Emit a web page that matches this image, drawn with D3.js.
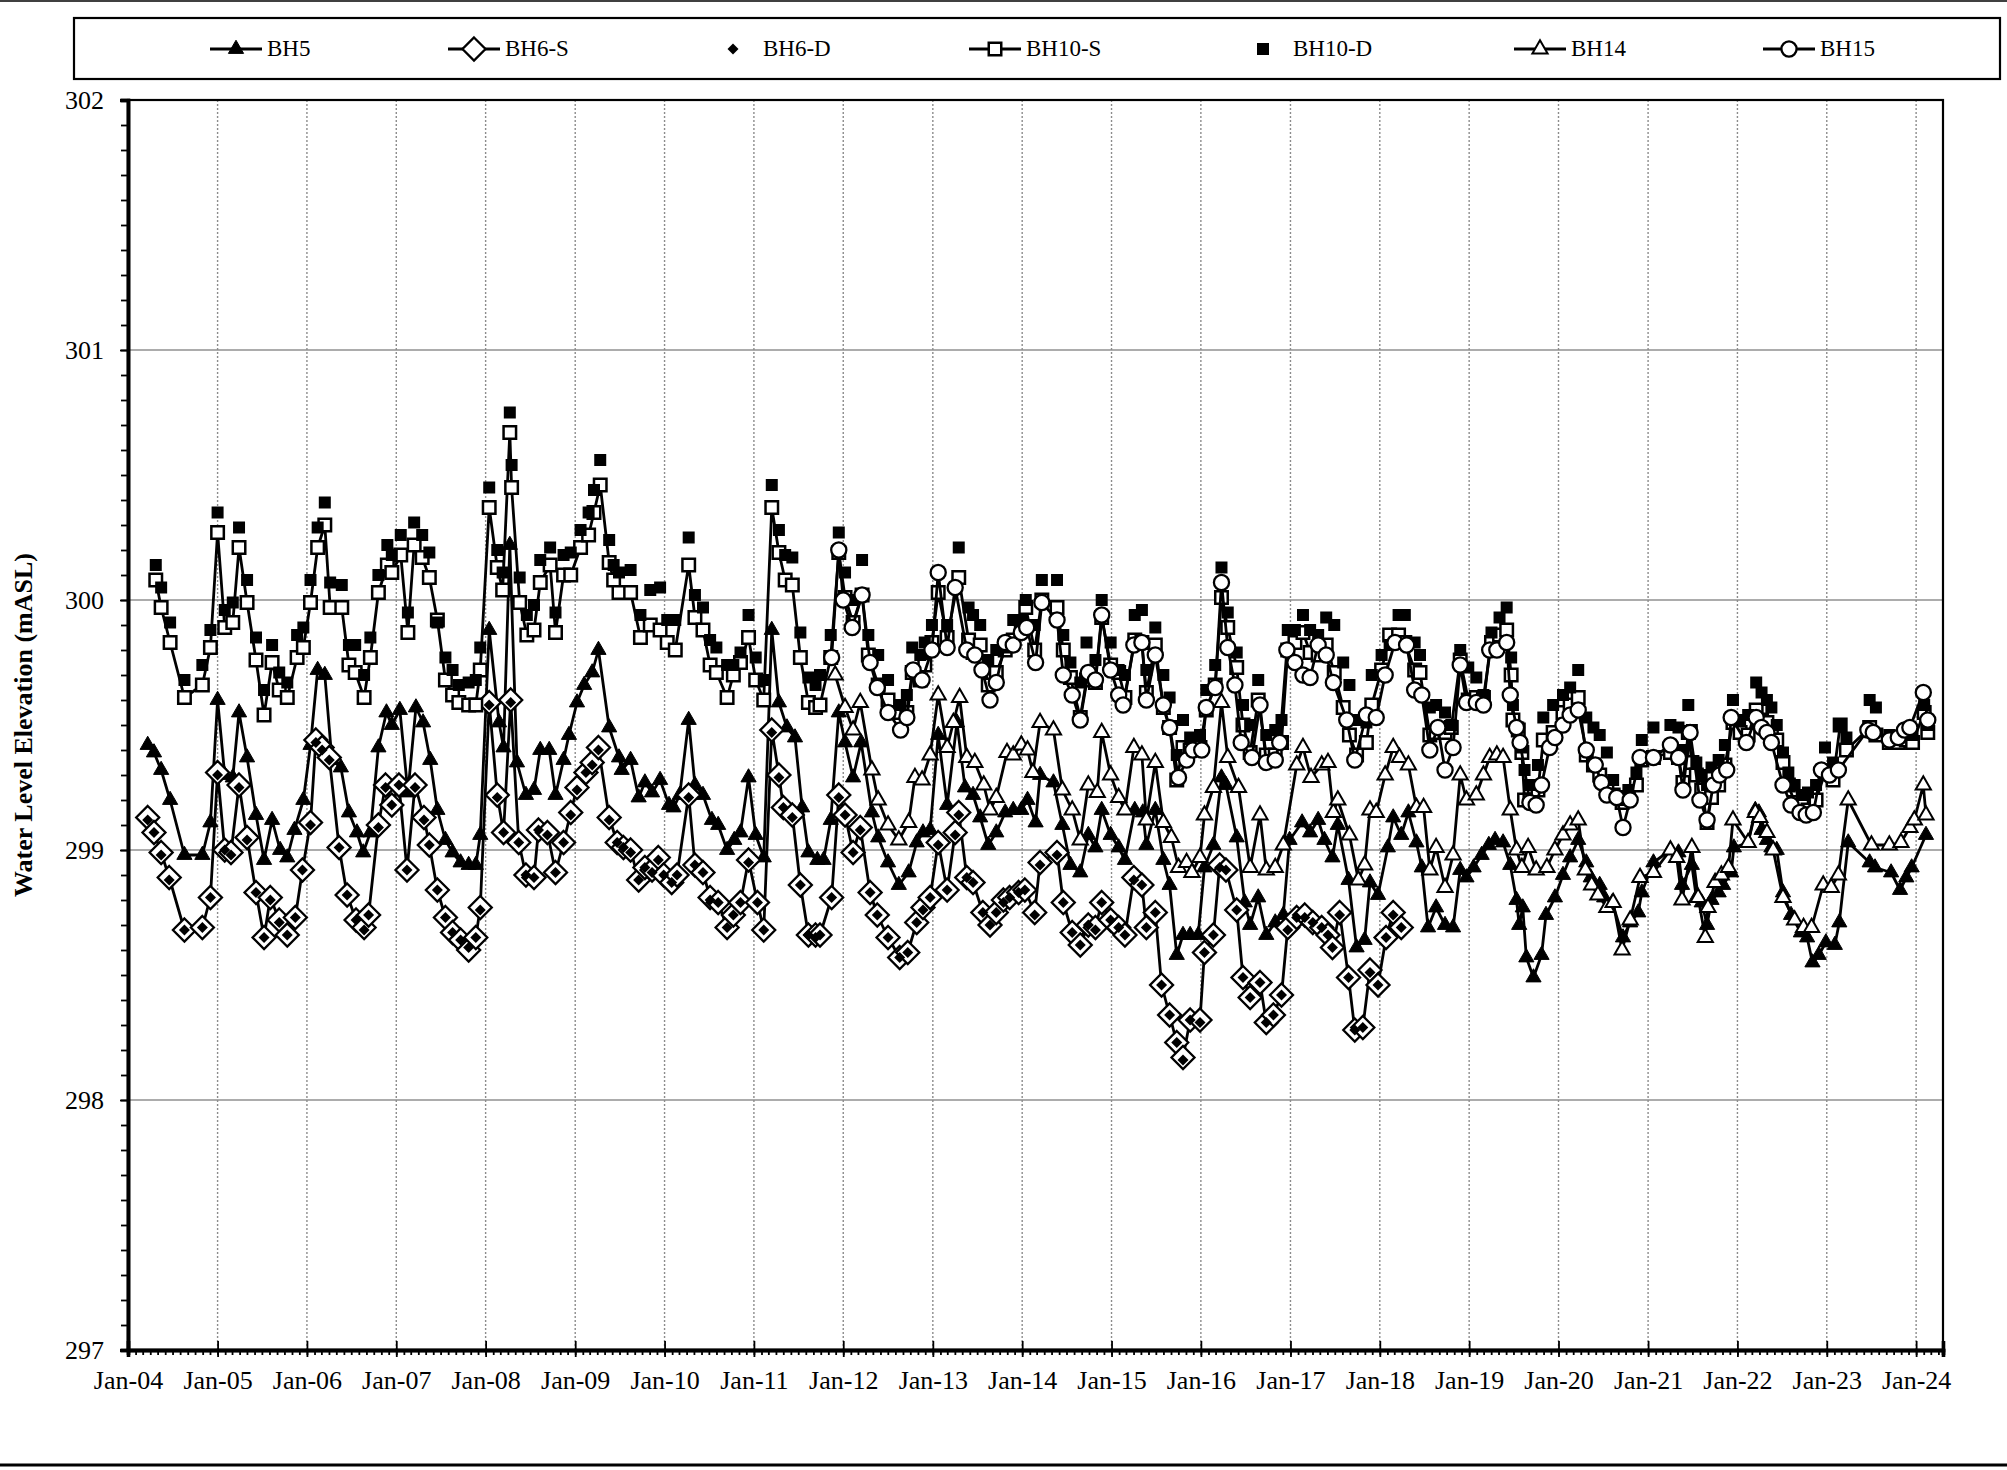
<!DOCTYPE html>
<html>
<head>
<meta charset="utf-8">
<script src="https://cdn.jsdelivr.net/npm/d3@7"></script>
<style>
  body { margin: 0; background: #fff; }
  svg, svg text { font-family: "Liberation Serif", "Times New Roman", serif; }
  text { fill: #000; }
</style>
</head>
<body>
<svg id="chart" width="2007" height="1470"></svg>
<script>
"use strict";

// data : [decimal year, elevation]
const bh5 = [
  [2004.22,299.42],[2004.29,299.39],[2004.37,299.32],[2004.47,299.20],[2004.63,298.98],[2004.83,298.98],[2004.92,299.11],
  [2005.00,299.60],[2005.08,299.30],[2005.17,299.29],[2005.24,299.55],[2005.33,299.37],[2005.43,299.14],[2005.52,298.96],[2005.61,299.12],[2005.70,299.00],[2005.78,298.97],[2005.86,299.08],[2005.96,299.20],
  [2006.04,299.42],[2006.12,299.72],[2006.20,299.70],[2006.28,299.36],[2006.38,299.33],[2006.47,299.15],[2006.56,299.07],[2006.63,298.99],[2006.71,299.07],[2006.80,299.41],[2006.89,299.55],[2006.95,299.50],
  [2007.04,299.56],[2007.13,299.23],[2007.22,299.57],[2007.30,299.51],[2007.38,299.36],[2007.46,299.16],[2007.55,299.04],[2007.63,298.99],[2007.72,298.95],[2007.81,298.94],[2007.89,298.94],[2007.94,299.06],
  [2008.04,299.88],[2008.15,299.51],[2008.20,299.41],[2008.27,300.22],[2008.35,299.35],[2008.45,299.22],[2008.54,299.24],[2008.61,299.40],[2008.71,299.40],[2008.78,299.22],[2008.87,299.36],[2008.93,299.46],
  [2009.02,299.59],[2009.10,299.66],[2009.19,299.71],[2009.26,299.80],[2009.38,299.49],[2009.49,299.37],[2009.52,299.32],[2009.62,299.36],[2009.71,299.21],[2009.78,299.27],[2009.86,299.23],[2009.95,299.28],
  [2010.05,299.18],[2010.10,299.17],[2010.17,299.22],[2010.27,299.52],[2010.34,299.26],[2010.43,299.22],[2010.53,299.12],[2010.60,299.10],[2010.70,299.00],[2010.78,299.04],[2010.85,299.07],[2010.94,299.29],
  [2011.02,299.06],[2011.11,298.97],[2011.20,299.88],[2011.28,299.59],[2011.37,299.49],[2011.46,299.45],[2011.54,299.17],[2011.61,298.99],[2011.71,298.96],[2011.78,298.96],[2011.86,299.12],[2011.95,299.55],
  [2012.02,299.43],[2012.11,299.29],[2012.20,299.43],[2012.32,299.15],[2012.39,299.05],[2012.50,298.95],[2012.62,298.86],[2012.73,298.91],[2012.82,299.03],[2012.89,299.07],[2012.97,299.08],
  [2013.06,299.46],[2013.16,299.18],[2013.27,299.51],[2013.36,299.25],[2013.45,299.22],[2013.53,299.13],[2013.62,299.02],[2013.71,299.07],[2013.81,299.15],[2013.90,299.16],[2013.99,299.16],
  [2014.06,299.20],[2014.15,299.11],[2014.20,299.30],[2014.35,299.27],[2014.45,299.10],[2014.54,298.94],[2014.65,298.91],[2014.74,299.06],[2014.82,299.01],[2014.89,299.16],[2014.99,299.06],
  [2015.08,299.01],[2015.15,298.96],[2015.26,299.16],[2015.35,299.15],[2015.39,299.02],[2015.49,299.16],[2015.58,298.96],[2015.65,298.86],[2015.73,298.58],[2015.80,298.66],[2015.88,298.66],[2015.97,298.66],
  [2016.04,298.93],[2016.14,299.02],[2016.23,299.29],[2016.28,299.26],[2016.40,299.05],[2016.49,298.79],[2016.55,298.70],[2016.64,298.81],[2016.73,298.66],[2016.83,298.71],[2016.92,298.74],[2016.99,299.04],
  [2017.13,299.11],[2017.22,299.07],[2017.31,299.12],[2017.38,299.04],[2017.47,298.97],[2017.53,299.10],[2017.65,298.88],[2017.74,298.61],[2017.83,298.64],[2017.89,298.87],[2017.98,298.82],
  [2018.09,299.01],[2018.15,299.13],[2018.24,299.06],[2018.32,299.15],[2018.41,299.03],[2018.47,298.93],[2018.54,298.69],[2018.63,298.77],[2018.73,298.70],[2018.82,298.69],[2018.90,298.92],[2018.97,298.89],
  [2019.05,298.93],[2019.14,298.98],[2019.22,299.02],[2019.29,299.04],[2019.38,299.03],[2019.46,298.94],[2019.53,298.80],[2019.56,298.70],[2019.60,298.77],[2019.64,298.57],[2019.72,298.49],[2019.81,298.58],[2019.86,298.74],[2019.96,298.81],
  [2020.05,298.90],[2020.13,298.97],[2020.22,299.04],[2020.31,298.95],[2020.36,298.89],[2020.46,298.86],[2020.51,298.81],[2020.60,298.79],[2020.72,298.65],[2020.80,298.71],[2020.89,298.75],[2020.93,298.83],
  [2021.06,298.95],[2021.25,299.00],[2021.34,298.99],[2021.38,298.86],[2021.49,298.94],[2021.54,298.81],[2021.60,298.79],[2021.66,298.70],[2021.71,298.80],[2021.79,298.83],[2021.84,298.86],[2021.93,298.91],[2021.96,299.01],
  [2022.12,299.03],[2022.20,299.16],[2022.24,299.15],[2022.27,299.08],[2022.33,299.04],[2022.38,299.01],[2022.44,299.00],[2022.51,298.83],[2022.60,298.74],[2022.71,298.67],[2022.78,298.65],[2022.84,298.55],[2022.91,298.58],[2022.99,298.63],
  [2023.09,298.62],[2023.14,298.71],[2023.24,299.03],[2023.48,298.95],[2023.54,298.93],[2023.72,298.91],[2023.82,298.84],[2023.89,298.89],[2023.95,298.93],[2024.11,299.06]
];

// data : [decimal year, BH6-S, BH6-D]
const bh6 = [
  [2004.22,299.13,299.12],[2004.29,299.07,299.07],[2004.37,298.99,298.98],[2004.46,298.89,298.88],[2004.63,298.68,298.68],[2004.83,298.69,298.69],[2004.92,298.81,298.81],
  [2005.00,299.31,299.30],[2005.08,299.00,299.00],[2005.15,298.99,298.98],[2005.24,299.26,299.25],[2005.33,299.05,299.04],[2005.43,298.83,298.83],[2005.52,298.65,298.65],[2005.59,298.81,298.80],[2005.69,298.72,298.71],[2005.78,298.66,298.66],[2005.87,298.73,298.73],[2005.95,298.92,298.92],
  [2006.04,299.11,299.10],[2006.10,299.44,299.43],[2006.17,299.41,299.40],[2006.25,299.37,299.36],[2006.36,299.01,299.01],[2006.45,298.82,298.82],[2006.55,298.72,298.72],[2006.64,298.69,298.68],[2006.69,298.74,298.74],[2006.80,299.10,299.09],[2006.88,299.26,299.25],[2006.95,299.18,299.18],
  [2007.03,299.26,299.26],[2007.12,298.92,298.92],[2007.21,299.26,299.25],[2007.31,299.13,299.12],[2007.37,299.02,299.02],[2007.46,298.84,298.84],[2007.55,298.73,298.73],[2007.63,298.67,298.67],[2007.72,298.64,298.64],[2007.81,298.60,298.61],[2007.89,298.65,298.65],[2007.94,298.77,298.76],
  [2008.04,299.59,299.58],[2008.13,299.22,299.21],[2008.20,299.07,299.07],[2008.28,299.60,299.59],[2008.37,299.03,299.03],[2008.45,298.90,298.90],[2008.54,298.89,298.89],[2008.59,299.08,299.08],[2008.69,299.07,299.06],[2008.78,298.91,298.91],[2008.87,299.03,299.03],[2008.95,299.15,299.14],
  [2009.02,299.25,299.24],[2009.12,299.31,299.31],[2009.19,299.35,299.34],[2009.26,299.41,299.40],[2009.38,299.13,299.12],[2009.47,299.03,299.03],[2009.54,299.01,299.01],[2009.62,299.00,298.99],[2009.71,298.88,298.88],[2009.78,298.93,298.93],[2009.86,298.92,298.91],[2009.93,298.97,298.96],[2009.99,298.90,298.90],
  [2010.08,298.87,298.87],[2010.14,298.90,298.90],[2010.27,299.22,299.21],[2010.34,298.94,298.94],[2010.43,298.91,298.91],[2010.51,298.81,298.80],[2010.60,298.79,298.79],[2010.70,298.69,298.69],[2010.77,298.74,298.74],[2010.85,298.79,298.79],[2010.94,298.96,298.95],
  [2011.04,298.79,298.79],[2011.11,298.68,298.68],[2011.20,299.48,299.47],[2011.28,299.30,299.29],[2011.33,299.17,299.17],[2011.43,299.14,299.13],[2011.52,298.86,298.86],[2011.61,298.66,298.66],[2011.69,298.66,298.65],[2011.74,298.66,298.66],[2011.87,298.81,298.81],[2011.95,299.22,299.21],
  [2012.02,299.14,299.14],[2012.11,298.99,298.99],[2012.19,299.09,299.08],[2012.30,298.83,298.83],[2012.38,298.74,298.74],[2012.50,298.65,298.65],[2012.63,298.57,298.57],[2012.72,298.59,298.59],[2012.82,298.71,298.71],[2012.89,298.77,298.76],[2012.97,298.81,298.81],
  [2013.06,299.03,299.02],[2013.16,298.84,298.84],[2013.25,299.07,299.06],[2013.29,299.15,299.14],[2013.38,298.89,298.89],[2013.45,298.87,298.87],[2013.56,298.75,298.75],[2013.64,298.70,298.70],[2013.71,298.75,298.75],[2013.79,298.80,298.79],[2013.86,298.81,298.81],[2013.96,298.83,298.83],
  [2014.03,298.84,298.84],[2014.14,298.75,298.74],[2014.20,298.95,298.94],[2014.39,298.99,298.98],[2014.46,298.79,298.79],[2014.56,298.67,298.67],[2014.65,298.62,298.62],[2014.74,298.70,298.70],[2014.82,298.69,298.68],[2014.89,298.79,298.79],[2014.99,298.72,298.72],
  [2015.08,298.69,298.69],[2015.15,298.66,298.66],[2015.25,298.89,298.88],[2015.34,298.86,298.86],[2015.39,298.69,298.69],[2015.49,298.75,298.75],[2015.56,298.46,298.46],[2015.65,298.34,298.34],[2015.73,298.23,298.23],[2015.80,298.17,298.16],[2015.88,298.32,298.32],[2015.99,298.32,298.31],
  [2016.04,298.59,298.59],[2016.14,298.66,298.66],[2016.21,298.94,298.93],[2016.28,298.92,298.92],[2016.40,298.76,298.76],[2016.47,298.49,298.49],[2016.55,298.41,298.41],[2016.66,298.47,298.47],[2016.73,298.31,298.31],[2016.81,298.34,298.34],[2016.90,298.42,298.42],[2016.97,298.69,298.68],
  [2017.07,298.73,298.73],[2017.16,298.74,298.73],[2017.25,298.71,298.71],[2017.35,298.69,298.69],[2017.42,298.66,298.66],[2017.47,298.61,298.61],[2017.55,298.75,298.74],[2017.65,298.49,298.49],[2017.72,298.28,298.28],[2017.81,298.29,298.29],[2017.89,298.52,298.51],[2017.98,298.46,298.46],
  [2018.07,298.65,298.65],[2018.15,298.75,298.74],[2018.24,298.69,298.69]
];

// data : [decimal year, BH10-S, BH10-D]
const bh10 = [
  [2004.31,300.08,300.14],[2004.37,299.97,300.05],[2004.47,299.83,299.91],[2004.63,299.61,299.68],[2004.83,299.66,299.74],[2004.92,299.81,299.88],
  [2005.00,300.27,300.35],[2005.08,299.89,299.96],[2005.17,299.91,299.99],[2005.24,300.21,300.29],[2005.33,299.99,300.08],[2005.43,299.76,299.85],[2005.52,299.54,299.64],[2005.61,299.75,299.82],[2005.69,299.64,299.71],[2005.78,299.61,299.67],[2005.89,299.77,299.86],[2005.96,299.81,299.89],
  [2006.04,299.99,300.08],[2006.12,300.21,300.29],[2006.20,300.30,300.39],[2006.26,299.97,300.07],[2006.39,299.97,300.06],[2006.47,299.74,299.82],[2006.54,299.71,299.82],[2006.64,299.61,299.70],[2006.71,299.77,299.85],[2006.80,300.03,300.10],[2006.90,300.14,300.22],[2006.95,300.11,300.18],
  [2007.05,300.18,300.26],[2007.13,299.87,299.95],[2007.20,300.22,300.31],[2007.29,300.17,300.26],[2007.37,300.09,300.19],[2007.46,299.92,299.91],[2007.55,299.68,299.77],[2007.63,299.62,299.72],[2007.70,299.59,299.66],[2007.81,299.58,299.67],[2007.89,299.58,299.68],[2007.94,299.72,299.81],
  [2008.04,300.37,300.45],[2008.13,300.13,300.20],[2008.19,300.04,300.11],[2008.27,300.67,300.75],[2008.29,300.45,300.54],[2008.38,299.99,300.09],[2008.46,299.86,299.94],[2008.54,299.88,299.98],[2008.61,300.07,300.16],[2008.72,300.14,300.21],[2008.78,299.87,299.95],[2008.87,300.10,300.18],[2008.95,300.10,300.19],
  [2009.06,300.21,300.28],[2009.15,300.26,300.35],[2009.21,300.35,300.44],[2009.28,300.46,300.56],[2009.38,300.15,300.24],[2009.43,300.08,300.14],[2009.49,300.03,300.11],[2009.62,300.03,300.12],[2009.73,299.85,299.94],[2009.84,299.90,300.04],[2009.95,299.88,300.05],
  [2010.03,299.83,299.92],[2010.12,299.80,299.92],[2010.27,300.14,300.25],[2010.34,299.93,300.02],[2010.43,299.88,299.97],[2010.51,299.74,299.84],[2010.58,299.71,299.81],[2010.70,299.61,299.74],[2010.77,299.70,299.74],[2010.85,299.75,299.79],[2010.94,299.85,299.94],
  [2011.02,299.68,299.77],[2011.11,299.60,299.68],[2011.20,300.37,300.46],[2011.28,300.19,300.28],[2011.35,300.08,300.18],[2011.43,300.06,300.17],[2011.52,299.77,299.87],[2011.61,299.59,299.69],[2011.69,299.57,299.66],[2011.74,299.58,299.70],[2011.86,299.77,299.86],[2011.95,300.19,300.27],
  [2012.02,300.01,300.11],[2012.11,299.91,300.00],[2012.21,300.02,300.16],[2012.28,299.78,299.86],[2012.39,299.66,299.78],[2012.50,299.60,299.68],[2012.64,299.55,299.58],[2012.71,299.55,299.62],[2012.77,299.71,299.81],[2012.86,299.68,299.78],[2012.91,299.74,299.83],[2012.99,299.83,299.90],
  [2013.06,300.03,300.11],[2013.16,299.85,299.90],[2013.29,300.09,300.21],[2013.40,299.84,299.97],[2013.45,299.79,299.94],[2013.53,299.82,299.90],[2013.62,299.66,299.76],[2013.71,299.71,299.80],[2013.81,299.80,299.81],[2013.90,299.84,299.92],[2013.99,299.88,299.92],
  [2014.04,299.97,300.00],[2014.14,299.80,299.90],[2014.22,300.00,300.08],[2014.39,299.97,300.08],[2014.46,299.80,299.86],[2014.54,299.69,299.75],[2014.65,299.53,299.67],[2014.72,299.68,299.83],[2014.82,299.67,299.76],[2014.89,299.93,300.00],[2014.99,299.74,299.83],
  [2015.08,299.71,299.72],[2015.15,299.61,299.70],[2015.26,299.84,299.94],[2015.34,299.83,299.96],[2015.39,299.63,299.72],[2015.49,299.82,299.89],[2015.58,299.57,299.70],[2015.65,299.49,299.61],[2015.73,299.28,299.38],[2015.80,299.41,299.52],[2015.88,299.40,299.45],[2015.99,299.41,299.46],
  [2016.06,299.56,299.64],[2016.16,299.66,299.74],[2016.23,300.01,300.13],[2016.30,299.89,299.95],[2016.40,299.73,299.79],[2016.47,299.50,299.58],[2016.55,299.39,299.50],[2016.64,299.60,299.68],[2016.73,299.38,299.46],[2016.83,299.38,299.48],[2016.90,299.43,299.52],[2016.97,299.80,299.88],
  [2017.05,299.83,299.88],[2017.14,299.87,299.94],[2017.22,299.79,299.88],[2017.31,299.78,299.86],[2017.40,299.82,299.93],[2017.49,299.71,299.90],[2017.59,299.57,299.75],[2017.66,299.46,299.66],[2017.74,299.38,299.52],[2017.85,299.43,299.51],[2017.91,299.58,299.70],
  [2018.02,299.72,299.78],[2018.11,299.86,299.82],[2018.21,299.86,299.94],[2018.28,299.83,299.94],[2018.39,299.72,299.83],[2018.45,299.71,299.78],[2018.56,299.46,299.57],[2018.63,299.47,299.58],[2018.73,299.47,299.55],[2018.80,299.49,299.50],[2018.90,299.76,299.80],[2018.99,299.60,299.73],
  [2019.08,299.61,299.69],[2019.16,299.61,299.62],[2019.25,299.83,299.87],[2019.34,299.86,299.93],[2019.42,299.88,299.97],[2019.47,299.70,299.77],[2019.49,299.52,299.58],[2019.55,299.48,299.49],[2019.59,299.39,299.41],[2019.62,299.20,299.32],[2019.68,299.20,299.26],[2019.77,299.24,299.34],[2019.83,299.44,299.53],[2019.94,299.47,299.58],
  [2020.05,299.55,299.62],[2020.13,299.58,299.65],[2020.22,299.61,299.72],[2020.31,299.38,299.53],[2020.39,299.34,299.49],[2020.46,299.30,299.46],[2020.54,299.24,299.39],[2020.61,299.22,299.28],[2020.71,299.19,299.20],[2020.78,299.21,299.24],[2020.87,299.26,299.31],[2020.93,299.36,299.44],
  [2021.06,299.37,299.49],[2021.25,299.39,299.50],[2021.34,299.37,299.49],[2021.39,299.27,299.40],[2021.45,299.47,299.58],[2021.49,299.35,299.48],[2021.54,299.30,299.35],[2021.60,299.24,299.30],[2021.66,299.11,299.26],[2021.71,299.21,299.33],[2021.79,299.26,299.36],[2021.86,299.34,299.42],[2021.95,299.51,299.60],
  [2022.03,299.47,299.52],[2022.12,299.46,299.54],[2022.21,299.56,299.67],[2022.27,299.52,299.63],[2022.33,299.51,299.60],[2022.38,299.46,299.57],[2022.44,299.44,299.50],[2022.51,299.35,299.39],[2022.57,299.26,299.31],[2022.64,299.19,299.26],[2022.72,299.18,299.22],[2022.79,299.16,299.23],[2022.88,299.20,299.26],[2022.98,299.31,299.41],
  [2023.07,299.28,299.35],[2023.15,299.50,299.50],[2023.22,299.40,299.45],[2023.48,299.49,299.60],[2023.55,299.46,299.57],[2023.70,299.43,299.46],[2023.80,299.43,299.45],[2023.89,299.44,299.46],[2023.96,299.43,299.46],
  [2024.09,299.55,299.58],[2024.13,299.47,299.50]
];

const bh14 = [
  [2011.91,299.70],[2012.02,299.57],[2012.11,299.48],[2012.19,299.59],[2012.32,299.32],[2012.39,299.20],[2012.50,299.10],[2012.62,299.04],[2012.73,299.11],[2012.80,299.29],[2012.88,299.28],[2012.97,299.38],
  [2013.06,299.62],[2013.16,299.41],[2013.23,299.51],[2013.30,299.61],[2013.38,299.37],[2013.47,299.35],[2013.57,299.26],[2013.64,299.16],[2013.71,299.21],[2013.83,299.39],[2013.90,299.38],[2013.99,299.42],
  [2014.06,299.40],[2014.12,299.31],[2014.20,299.51],[2014.35,299.48],[2014.45,299.24],[2014.56,299.16],[2014.65,299.04],[2014.74,299.26],[2014.84,299.23],[2014.89,299.47],[2014.99,299.30],
  [2015.08,299.21],[2015.15,299.16],[2015.25,299.41],[2015.34,299.38],[2015.39,299.12],[2015.49,299.35],[2015.58,299.11],[2015.67,299.05],[2015.75,298.93],[2015.84,298.95],[2015.90,298.91],[2015.99,298.97],
  [2016.04,299.14],[2016.14,299.25],[2016.23,299.59],[2016.30,299.37],[2016.42,299.25],[2016.55,298.93],[2016.66,299.14],[2016.73,298.92],[2016.83,298.93],[2016.92,299.02],
  [2017.07,299.34],[2017.14,299.41],[2017.23,299.29],[2017.35,299.34],[2017.42,299.35],[2017.48,299.15],[2017.53,299.20],[2017.66,299.06],[2017.76,298.88],[2017.83,298.94],[2017.89,299.16],[2017.96,299.15],
  [2018.06,299.30],[2018.15,299.41],[2018.22,299.37],[2018.32,299.34],[2018.41,299.17],[2018.49,299.17],[2018.56,298.92],[2018.63,299.01],[2018.73,298.85],[2018.82,298.98],[2018.90,299.30],[2018.97,299.20],
  [2019.08,299.22],[2019.16,299.30],[2019.23,299.37],[2019.31,299.38],[2019.38,299.37],[2019.46,299.16],[2019.53,299.00],[2019.59,298.93],[2019.66,299.01],[2019.75,298.92],[2019.87,298.93],[2019.96,299.00],
  [2020.05,299.06],[2020.13,299.10],[2020.22,299.12],[2020.30,298.92],[2020.37,298.86],[2020.44,298.82],[2020.54,298.77],[2020.61,298.79],[2020.71,298.60],[2020.80,298.72],[2020.91,298.89],
  [2021.06,298.91],[2021.25,299.00],[2021.32,298.97],[2021.38,298.80],[2021.49,299.01],[2021.56,298.81],[2021.64,298.65],[2021.67,298.77],[2021.75,298.87],[2021.82,298.90],[2021.90,298.93],[2021.95,299.12],
  [2022.12,299.03],[2022.20,299.15],[2022.25,299.13],[2022.33,299.07],[2022.40,299.00],[2022.51,298.81],[2022.64,298.72],[2022.74,298.69],[2022.83,298.69],[2022.96,298.86],
  [2023.05,298.85],[2023.13,298.90],[2023.24,299.20],[2023.50,299.02],[2023.70,299.02],[2023.83,299.03],[2023.93,299.09],[2023.98,299.12],[2024.08,299.26],[2024.11,299.14]
];

const bh15 = [
  [2011.87,299.77],[2011.95,300.20],[2012.00,300.00],[2012.10,299.89],[2012.21,300.02],[2012.30,299.75],[2012.38,299.65],[2012.50,299.55],[2012.64,299.48],[2012.71,299.53],[2012.78,299.72],[2012.88,299.68],[2012.99,299.80],
  [2013.06,300.11],[2013.16,299.81],[2013.25,300.05],[2013.38,299.80],[2013.47,299.78],[2013.55,299.72],[2013.64,299.60],[2013.71,299.67],[2013.81,299.83],[2013.90,299.82],[2013.99,299.87],
  [2014.05,299.89],[2014.15,299.75],[2014.22,299.99],[2014.39,299.92],[2014.46,299.70],[2014.56,299.62],[2014.65,299.52],[2014.74,299.71],[2014.82,299.68],[2014.89,299.94],[2014.99,299.72],
  [2015.08,299.62],[2015.13,299.58],[2015.25,299.82],[2015.34,299.83],[2015.39,299.60],[2015.49,299.78],[2015.58,299.58],[2015.65,299.49],[2015.75,299.29],[2015.84,299.36],[2015.91,299.40],
  [2016.01,299.40],[2016.06,299.57],[2016.16,299.65],[2016.23,300.07],[2016.30,299.81],[2016.38,299.66],[2016.45,299.43],[2016.57,299.37],[2016.66,299.58],[2016.73,299.35],[2016.83,299.36],[2016.88,299.43],[2016.96,299.80],
  [2017.05,299.75],[2017.14,299.70],[2017.22,299.69],[2017.31,299.82],[2017.40,299.78],[2017.48,299.67],[2017.63,299.52],[2017.72,299.36],[2017.85,299.54],[2017.96,299.53],
  [2018.06,299.70],[2018.17,299.83],[2018.30,299.82],[2018.39,299.64],[2018.47,299.62],[2018.56,299.40],[2018.65,299.49],[2018.73,299.32],[2018.82,299.41],[2018.90,299.74],[2018.97,299.59],
  [2019.08,299.59],[2019.16,299.58],[2019.23,299.80],[2019.31,299.80],[2019.42,299.83],[2019.46,299.62],[2019.53,299.49],[2019.57,299.43],[2019.68,299.19],[2019.75,299.18],[2019.81,299.26],[2019.90,299.41],[2019.96,299.45],
  [2020.05,299.50],[2020.13,299.54],[2020.22,299.56],[2020.31,299.40],[2020.41,299.34],[2020.48,299.27],[2020.54,299.22],[2020.65,299.21],[2020.72,299.09],[2020.80,299.20],[2020.91,299.37],
  [2021.06,299.37],[2021.25,299.42],[2021.34,299.37],[2021.39,299.24],[2021.47,299.47],[2021.58,299.20],[2021.66,299.12],[2021.73,299.26],[2021.80,299.30],[2021.88,299.32],[2021.93,299.53],
  [2022.10,299.43],[2022.21,299.53],[2022.27,299.49],[2022.33,299.47],[2022.38,299.43],[2022.51,299.26],[2022.60,299.18],[2022.70,299.15],[2022.77,299.14],[2022.85,299.15],[2022.94,299.32],
  [2023.03,299.30],[2023.13,299.32],[2023.46,299.48],[2023.52,299.47],[2023.70,299.44],[2023.80,299.45],[2023.87,299.48],[2023.93,299.49],[2024.08,299.63],[2024.13,299.52]
];

const yTicks = [297, 298, 299, 300, 301, 302];
const xStart = 2004.0, xEnd = 2024.30;
const legendNames = ["BH5", "BH6-S", "BH6-D", "BH10-S", "BH10-D", "BH14", "BH15"];



// setting
const W = 2007, H = 1470;
const plot = { left: 128, right: 1943, top: 100, bottom: 1350 };
const serif = "'Liberation Serif', 'Times New Roman', serif";

const svg = d3.select("#chart");
svg.append("rect").attr("width", W).attr("height", H).attr("fill", "#fff");


// decimal year -> Date
function decToDate(t) {
    let yr = Math.floor(t);
    let a = new Date(yr, 0, 1), b = new Date(yr + 1, 0, 1);
    return new Date(+a + (t - yr) * (b - a));
}


// scales
const x = d3.scaleTime()
.domain([decToDate(xStart), decToDate(xEnd)])
.range([plot.left, plot.right]);

const y = d3.scaleLinear()
.domain([d3.min(yTicks), d3.max(yTicks)])
.range([plot.bottom, plot.top]);

const years = d3.timeYear.range(new Date(2004, 0, 1), new Date(2024, 0, 2));
const months = d3.timeMonth.range(new Date(2004, 0, 1), decToDate(xEnd));
const yMinor = d3.range(297, 302.001, 0.1).map(v => +v.toFixed(1));


// grid lines
svg.append("g")
.attr("class", "yGrid")
.selectAll("line")
.data(yTicks.slice(1, -1))
.join("line")
.attr("x1", plot.left).attr("x2", plot.right)
.attr("y1", d => y(d)).attr("y2", d => y(d))
.attr("stroke", "#5a5a5a").attr("stroke-width", 1.1);

svg.append("g")
.attr("class", "xGrid")
.selectAll("line")
.data(years.slice(1))
.join("line")
.attr("x1", d => x(d)).attr("x2", d => x(d))
.attr("y1", plot.top).attr("y2", plot.bottom)
.attr("stroke", "#8c8c8c").attr("stroke-width", 1.4)
.attr("stroke-dasharray", "2,2");


// series
const triangle = d3.symbol(d3.symbolTriangle, 100)();
const square = d3.symbol(d3.symbolSquare, 156)();
const circle = d3.symbol(d3.symbolCircle, 180)();
const diamondBig = "M0,-11.5L11.5,0L0,11.5L-11.5,0Z";
const diamondSmall = "M0,-5.5L5.5,0L0,5.5L-5.5,0Z";
const squareSmall = d3.symbol(d3.symbolSquare, 144)();

const series = [
    { name: legendNames[0], data: bh5, line: true, path: triangle, fill: "#000", sw: 1 },
    { name: legendNames[1], data: bh6.map(r => [r[0], r[1]]), line: true, path: diamondBig, fill: "#fff", sw: 2.3 },
    { name: legendNames[2], data: bh6.map(r => [r[0], r[2]]), line: false, path: diamondSmall, fill: "#000", sw: 0 },
    { name: legendNames[3], data: bh10.map(r => [r[0], r[1]]), line: true, path: square, fill: "#fff", sw: 2.5 },
    { name: legendNames[4], data: bh10.map(r => [r[0], r[2]]), line: false, path: squareSmall, fill: "#000", sw: 0 },
    { name: legendNames[5], data: bh14, line: true, path: triangle, fill: "#fff", sw: 2 },
    { name: legendNames[6], data: bh15, line: true, path: circle, fill: "#fff", sw: 2.3 }
];

let line = d3.line()
.x(d => x(decToDate(d[0])))
.y(d => y(d[1]));

series.forEach(s => {
    let g = svg.append("g").attr("class", "series").attr("data-content", s.name);
    if (s.line) {
        g.append("path")
        .datum(s.data)
        .attr("d", line)
        .attr("fill", "none")
        .attr("stroke", "#000")
        .attr("stroke-width", 2.8)
        .attr("stroke-linejoin", "round");
    }
    g.selectAll("path.mk")
    .data(s.data)
    .join("path")
    .attr("class", "mk")
    .attr("d", s.path)
    .attr("transform", d => `translate(${x(decToDate(d[0]))},${y(d[1])})`)
    .attr("fill", s.fill)
    .attr("stroke", "#000")
    .attr("stroke-width", s.sw);
});


// plot border (top / right thin, axes thick)
svg.append("rect")
.attr("x", plot.left).attr("y", plot.top)
.attr("width", plot.right - plot.left).attr("height", plot.bottom - plot.top)
.attr("fill", "none").attr("stroke", "#000").attr("stroke-width", 2.2);


// y axis
svg.append("g")
.attr("class", "y_axis")
.attr("transform", `translate(${plot.left},0)`)
.call(d3.axisLeft(y).tickValues(yTicks).tickFormat(d3.format("d")).tickSize(8).tickPadding(16));
svg.append("g")
.attr("class", "y_minor")
.attr("transform", `translate(${plot.left},0)`)
.call(d3.axisLeft(y).tickValues(yMinor).tickFormat("").tickSize(7));


// x axis
svg.append("g")
.attr("class", "x_axis")
.attr("transform", `translate(0,${plot.bottom})`)
.call(d3.axisBottom(x).tickValues(years).tickFormat(d3.timeFormat("%b-%y")).tickSize(7).tickPadding(14));
svg.append("g")
.attr("class", "x_major_in")
.attr("transform", `translate(0,${plot.bottom})`)
.call(d3.axisTop(x).tickValues(years).tickFormat("").tickSize(9));
svg.append("g")
.attr("class", "x_minor")
.attr("transform", `translate(0,${plot.bottom})`)
.call(d3.axisBottom(x).tickValues(months).tickFormat("").tickSize(5));

svg.selectAll(".y_axis, .y_minor, .x_axis, .x_major_in, .x_minor")
.each(function() {
    let a = d3.select(this);
    a.attr("font-family", serif);
    a.select(".domain").attr("stroke", "#000").attr("stroke-width", 3.6);
    a.selectAll(".tick line").attr("stroke", "#000").attr("stroke-width", 1.8);
    a.selectAll("text").style("font-family", serif).attr("font-size", 26).attr("fill", "#000");
});


// y axis label
svg.append("text")
.attr("transform", `translate(32,${(plot.top + plot.bottom) / 2}) rotate(-90)`)
.attr("text-anchor", "middle")
.style("font-family", serif)
.attr("font-size", 26)
.attr("font-weight", "bold")
.text("Water Level Elevation (mASL)");


// legend
svg.append("rect")
.attr("x", 74).attr("y", 18).attr("width", 1926).attr("height", 61)
.attr("fill", "#fff").attr("stroke", "#000").attr("stroke-width", 2.2);

const legendX = [236, 474, 733, 995, 1263, 1540, 1789];
let legend = svg.append("g").attr("class", "legend");
series.forEach((s, i) => {
    let item = legend.append("g")
    .attr("class", "legend_item")
    .attr("transform", `translate(${legendX[i]},49)`);
    if (s.line) {
        item.append("line")
        .attr("x1", -26).attr("x2", 26)
        .attr("stroke", "#000").attr("stroke-width", 2.8);
    }
    item.append("path")
    .attr("d", s.path)
    .attr("fill", s.fill)
    .attr("stroke", "#000")
    .attr("stroke-width", s.sw);
    item.append("text")
    .attr("x", s.line ? 31 : 30)
    .attr("y", 7)
    .style("font-family", serif)
    .attr("font-size", 23)
    .text(s.name);
});


// frame lines
svg.append("line")
.attr("x1", 0).attr("x2", W).attr("y1", 1).attr("y2", 1)
.attr("stroke", "#000").attr("stroke-width", 1.5);
svg.append("line")
.attr("x1", 0).attr("x2", W).attr("y1", 1465).attr("y2", 1465)
.attr("stroke", "#000").attr("stroke-width", 3);
</script>
</body>
</html>
